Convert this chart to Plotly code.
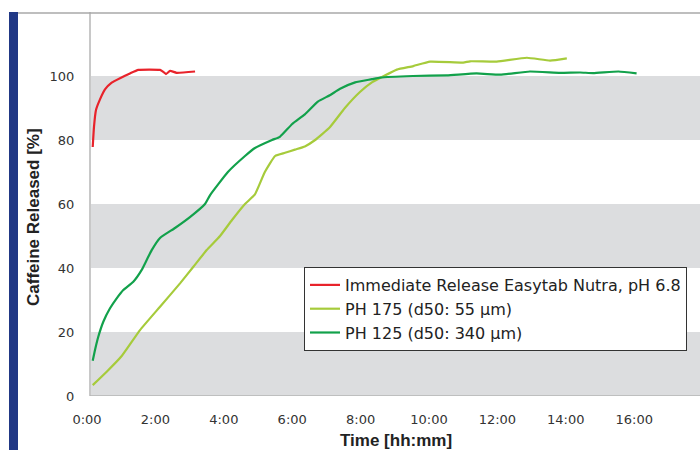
import plotly.graph_objects as go

# ---- data (time in hours, release in %) ----
ir_time = [0.167, 0.205, 0.263, 0.38, 0.526, 0.722, 0.965, 1.257, 1.5, 2.135, 2.23, 2.31, 2.43, 2.62, 3.16]
ir_val = [77.8, 84.2, 89.4, 92.7, 95.8, 97.9, 99.3, 100.8, 101.9, 101.9, 101.3, 100.6, 101.6, 101.0, 101.4]

ph175_time = [0.167, 0.576, 1.015, 1.55, 2.135, 2.72, 3.11, 3.5, 3.89, 4.24, 4.62, 4.91, 5.2, 5.5, 5.79,
              6.08, 6.37, 6.67, 7.1, 7.54, 7.98, 8.33, 8.68, 9.06, 9.54, 10.03, 11.0, 11.2, 11.98, 12.86,
              13.54, 14.03]
ph175_val = [3.4, 7.6, 12.5, 20.6, 27.9, 35.2, 40.4, 45.6, 50.0, 55.0, 60.0, 63.0, 70.0, 75.0, 76.0,
             77.0, 78.0, 80.0, 84.0, 90.0, 95.0, 98.0, 100.0, 102.0, 103.1, 104.5, 104.2, 104.6, 104.5, 105.7,
             104.8, 105.5]

ph125_time = [0.167, 0.234, 0.33, 0.477, 0.673, 0.868, 1.061, 1.354, 1.6, 1.746, 1.892, 2.135, 2.573, 3.01,
              3.45, 3.6, 4.12, 4.62, 4.91, 5.41, 5.64, 6.0, 6.37, 6.75, 7.1, 7.4, 7.84, 8.33, 8.57, 9.53,
              10.52, 11.39, 12.08, 12.95, 13.83, 14.42, 14.8, 15.54, 16.07]
ph125_val = [11.0, 14.4, 18.5, 23.2, 27.4, 30.5, 33.1, 35.7, 39.4, 42.5, 45.6, 49.4, 52.5, 55.9,
             60.0, 62.8, 70.0, 75.0, 77.5, 80.0, 81.0, 85.0, 88.0, 92.0, 94.0, 96.0, 98.0, 99.0, 99.5, 100.0,
             100.2, 100.8, 100.4, 101.4, 101.0, 101.1, 100.9, 101.4, 100.8]

series_names = ["Immediate Release Easytab Nutra, pH 6.8", "PH 175 (d50: 55 µm)", "PH 125 (d50: 340 µm)"]
series_colors = ["#e8232b", "#a6cb3b", "#12a14b"]

x_tick_vals = [0, 2, 4, 6, 8, 10, 12, 14, 16]
x_tick_text = ["0:00", "2:00", "4:00", "6:00", "8:00", "10:00", "12:00", "14:00", "16:00"]
y_tick_vals = [0, 20, 40, 60, 80, 100]
band_ranges = [(0, 20), (40, 60), (80, 100)]

# ---- figure ----
fig = go.Figure()
for t, v, name, col in zip([ir_time, ph175_time, ph125_time], [ir_val, ph175_val, ph125_val],
                           series_names, series_colors):
    fig.add_trace(go.Scatter(x=t, y=v, mode="lines", name=name,
                             line=dict(color=col, width=2.2, shape="spline", smoothing=0.4)))

W, H = 700, 450
L, R, T, B = 87, 0, 12, 54
pw, ph = W - L - R, H - T - B
axis_px = 90
axis_pos = (axis_px - L) / pw

shapes = []
for y0, y1 in band_ranges:
    shapes.append(dict(type="rect", xref="x domain", yref="y", x0=axis_pos, x1=1, y0=y0, y1=y1,
                       fillcolor="#dcdddf", line=dict(width=0), layer="below"))
# bottom axis line
shapes.append(dict(type="line", xref="x domain", yref="y", x0=axis_pos, x1=1, y0=0, y1=0,
                   line=dict(color="#b5b5b5", width=1.5), layer="above"))
# top frame line
shapes.append(dict(type="line", xref="paper", yref="paper", x0=(18 - L) / pw, x1=1,
                   y0=(H - B - 13) / ph, y1=(H - B - 13) / ph,
                   line=dict(color="#a8a8a8", width=1.5)))
# blue side bar
shapes.append(dict(type="rect", xref="paper", yref="paper", x0=(9 - L) / pw, x1=(18 - L) / pw,
                   y0=(H - B - 450) / ph, y1=(H - B - 12) / ph,
                   fillcolor="#213885", line=dict(width=0)))

tick_font = dict(size=13, color="#333333", family="DejaVu Sans, Verdana, sans-serif")

fig.update_layout(
    width=W, height=H,
    margin=dict(l=L, r=R, t=T, b=B, pad=0),
    paper_bgcolor="white", plot_bgcolor="white",
    font=dict(family="DejaVu Sans, Verdana, sans-serif", color="#333333", size=13),
    shapes=shapes,
    showlegend=True,
    legend=dict(x=(304 - L) / pw, y=(H - B - 267) / ph, xanchor="left", yanchor="top",
                bgcolor="white", bordercolor="#333333", borderwidth=1,
                font=dict(size=16, color="#222222", family="DejaVu Sans, Verdana, sans-serif")),
    xaxis=dict(range=[0, pw / 34.2], tickvals=x_tick_vals, ticktext=x_tick_text,
               showgrid=False, zeroline=False, showline=False, ticks="", ticklabelstandoff=14,
               tickfont=tick_font),
    yaxis=dict(range=[0, ph / 3.2], tickvals=y_tick_vals, showgrid=False, zeroline=False,
               anchor="free", position=axis_pos, showline=True, linecolor="#c8c8c8", linewidth=2,
               ticks="", ticklabelstandoff=12, tickfont=tick_font),
    annotations=[
        dict(text="<b>Caffeine Released [%]</b>", xref="paper", yref="paper",
             x=(33 - L) / pw, y=(H - B - 217) / ph, textangle=-90, showarrow=False,
             xanchor="center", yanchor="middle",
             font=dict(size=17, color="#222222", family="Liberation Sans, Arial")),
        dict(text="<b>Time [hh:mm]</b>", xref="paper", yref="paper",
             x=(396 - L) / pw, y=(H - B - 440) / ph, showarrow=False,
             xanchor="center", yanchor="middle",
             font=dict(size=17, color="#222222", family="Liberation Sans, Arial")),
    ],
)

fig.write_html("out.html")
